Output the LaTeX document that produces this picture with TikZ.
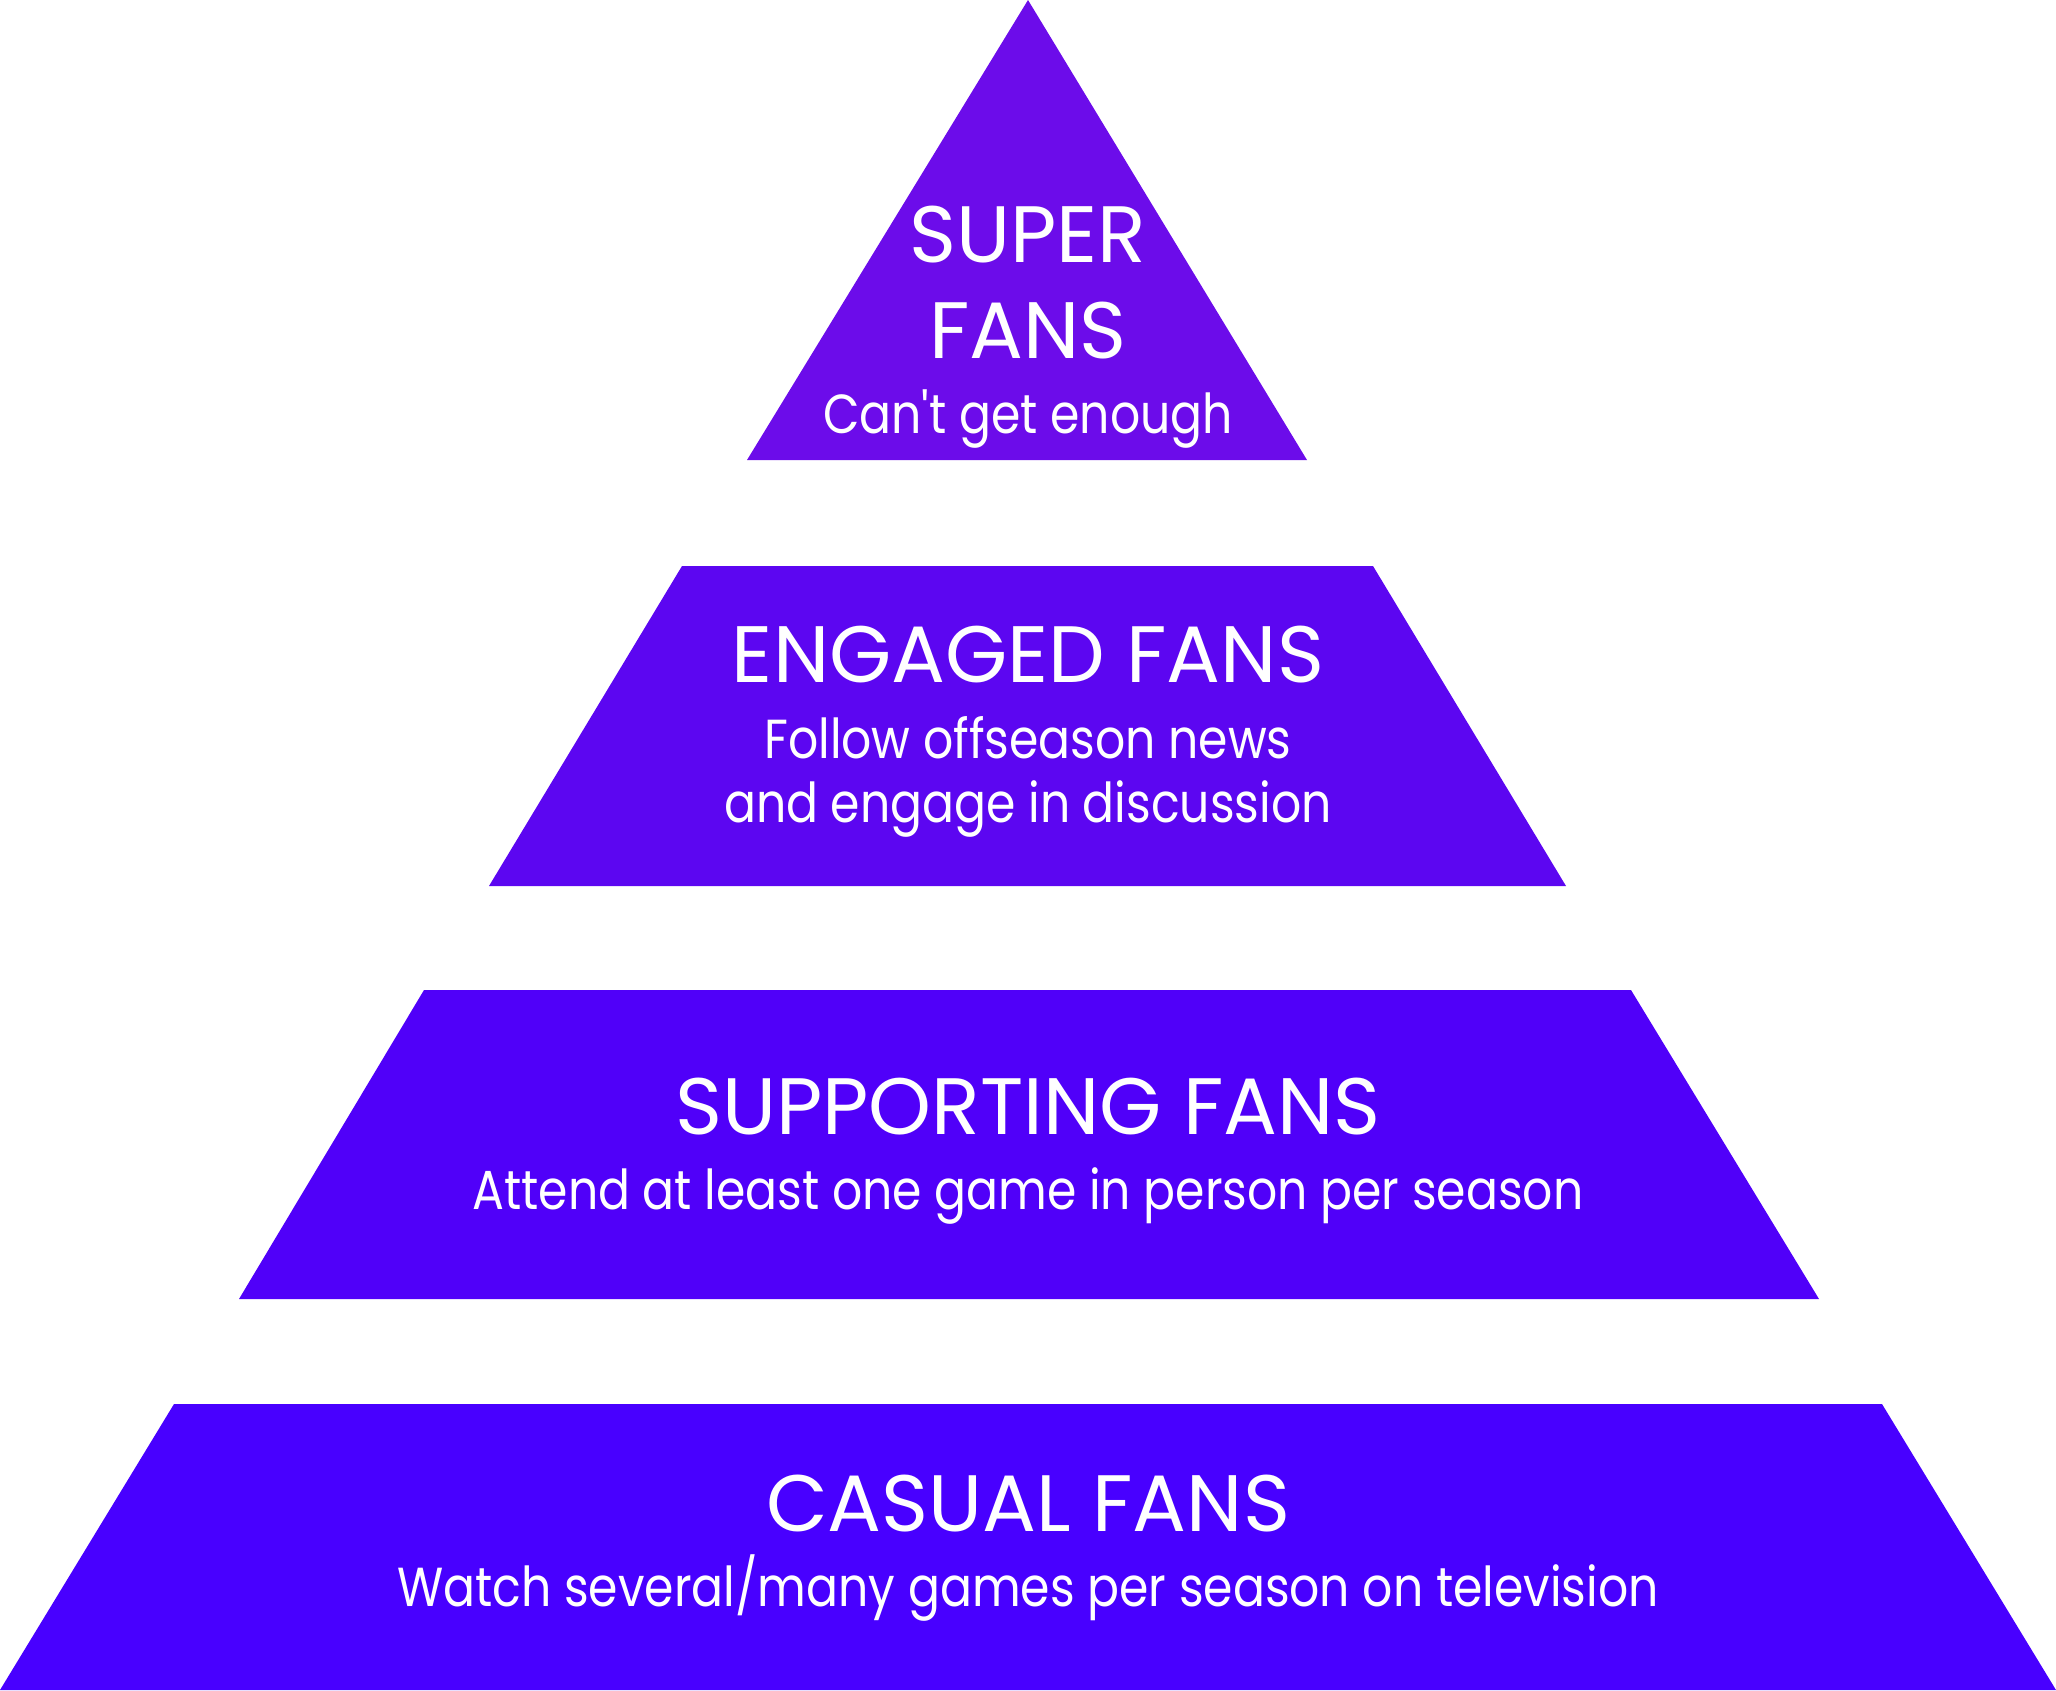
\documentclass[tikz,border=0pt]{standalone}
\usepackage{fontspec}
\setmainfont{Poppins}
\newfontfamily\subfont[FakeStretch=0.86]{Poppins}
\definecolor{cTop}{HTML}{6C0CEA}
\definecolor{cEng}{HTML}{5C06F1}
\definecolor{cSup}{HTML}{5000F9}
\definecolor{cCas}{HTML}{4800FF}
\tikzset{
  tier/.style={draw=none},
  titletext/.style={text=white, anchor=base, inner sep=0pt, font=\fontsize{80}{99}\selectfont},
  subtext/.style={text=white, anchor=base, inner sep=0pt, align=center, font=\subfont\fontsize{55}{64}\selectfont},
}
\begin{document}
\begin{tikzpicture}[x=1pt,y=-1pt]
\useasboundingbox (0,0) rectangle (2056,1690);
% tiers
\fill[tier, cTop] (1028,0) -- (1307,460) -- (747,460) -- cycle;
\fill[tier, cEng] (682,566) -- (1373,566) -- (1566,886) -- (489,886) -- cycle;
\fill[tier, cSup] (424,990) -- (1631,990) -- (1819,1299) -- (239,1299) -- cycle;
\fill[tier, cCas] (174,1404) -- (1882,1404) -- (2056,1690) -- (0,1690) -- cycle;
% texts
\node[titletext] (t1a) at (1028,262) {SUPER};
\node[titletext] (t1b) at (1028,358) {FANS};
\node[subtext] (s1) at (1028,433) {Can\char"0027 t get enough};
\node[titletext] (t2) at (1028,682) {ENGAGED FANS};
\node[subtext] (s2a) at (1028,758) {Follow offseason news};
\node[subtext] (s2b) at (1028,822) {and engage in discussion};
\node[titletext] (t3) at (1028,1134) {SUPPORTING FANS};
\node[subtext] (s3) at (1028,1209) {Attend at least one game in person per season};
\node[titletext] (t4) at (1028,1531) {CASUAL FANS};
\node[subtext] (s4) at (1028,1606) {Watch several/many games per season on television};
\end{tikzpicture}
\end{document}
